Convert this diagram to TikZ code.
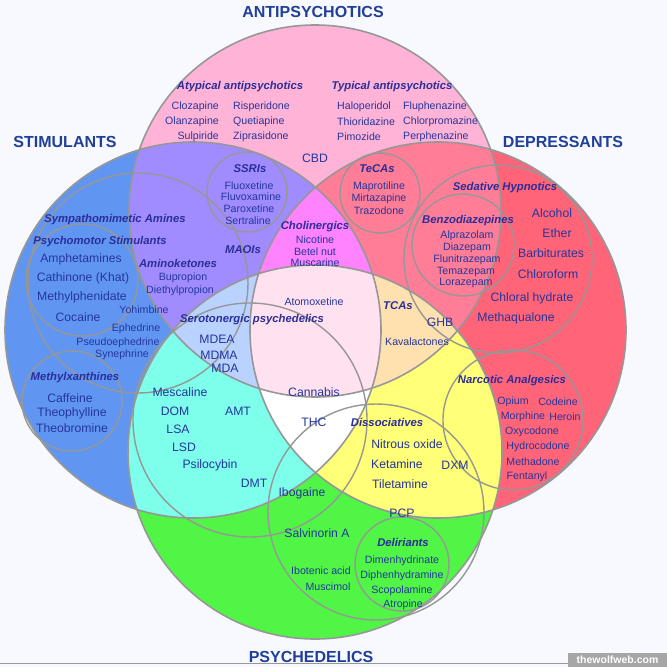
\documentclass[tikz,border=0pt]{standalone}
\usepackage{fontspec}
\setmainfont{Liberation Sans}

\definecolor{bgwhite}{HTML}{F7F9FF}
\definecolor{ringgray}{HTML}{979797}
\definecolor{titleblue}{HTML}{1F3F99}
\definecolor{grpblue}{HTML}{2B2E99}
\definecolor{itemblue}{HTML}{25369C}
\definecolor{pinkA}{HTML}{FFB3D6}
\definecolor{blueS}{HTML}{6096F2}
\definecolor{redD}{HTML}{FF6478}
\definecolor{greenP}{HTML}{50F546}
\definecolor{purpleAS}{HTML}{A08CFF}
\definecolor{roseAD}{HTML}{FF7D96}
\definecolor{cyanSP}{HTML}{7DFFEB}
\definecolor{yellowDP}{HTML}{FFFF78}
\definecolor{magentaASD}{HTML}{FF82FF}
\definecolor{lblueASP}{HTML}{B9D2FF}
\definecolor{orangeADP}{HTML}{FFE1AF}
\definecolor{lpinkAll}{HTML}{FFE1F0}

\begin{document}
\begin{tikzpicture}[x=1pt,y=-1pt,line cap=round,
  ring/.style={draw=ringgray,line width=1.6pt},
  subring/.style={draw=ringgray,line width=1.4pt},
  title/.style={font=\fontsize{16}{17}\selectfont\bfseries,text=titleblue,inner sep=0pt},
  grp/.style={font=\fontsize{11.3}{12}\selectfont\bfseries\itshape,text=grpblue,inner sep=0pt},
  itm/.style={font=\fontsize{12.2}{13}\selectfont,text=itemblue,inner sep=0pt},
  sitm/.style={font=\fontsize{10.6}{11}\selectfont,text=itemblue,inner sep=0pt}]
  \fill[bgwhite] (0,0) rectangle (667,667);
  \useasboundingbox (0,0) rectangle (667,667);

  % centres of the four classes
  \coordinate (cA) at (315,211);
  \coordinate (cS) at (193,330);
  \coordinate (cD) at (438,330);
  \coordinate (cP) at (315,452);

  % one class only
  \fill[pinkA] (cA) circle (186pt);
  \fill[blueS] (cS) circle (188pt);
  \fill[redD] (cD) circle (188pt);
  \fill[greenP] (cP) circle (187pt);

  % two classes
  \begin{scope}
    \clip (cA) circle (186pt);
    \fill[purpleAS] (cS) circle (188pt);
    \fill[roseAD] (cD) circle (188pt);
  \end{scope}
  \begin{scope}
    \clip (cP) circle (187pt);
    \fill[cyanSP] (cS) circle (188pt);
    \fill[yellowDP] (cD) circle (188pt);
  \end{scope}

  % three classes
  \begin{scope}
    \clip (cA) circle (186pt);
    \clip (cS) circle (188pt);
    \fill[magentaASD] (cD) circle (188pt);
    \fill[lblueASP] (cP) circle (187pt);
  \end{scope}
  \begin{scope}
    \clip (cA) circle (186pt);
    \clip (cD) circle (188pt);
    \fill[orangeADP] (cP) circle (187pt);
  \end{scope}
  \begin{scope}
    \clip (cS) circle (188pt);
    \clip (cD) circle (188pt);
    \fill[white] (cP) circle (187pt);
  \end{scope}

  % all four
  \begin{scope}
    \clip (cA) circle (186pt);
    \clip (cS) circle (188pt);
    \clip (cD) circle (188pt);
    \fill[lpinkAll] (cP) circle (187pt);
  \end{scope}

  \draw[ring] (cA) circle (186pt);
  \draw[ring] (cS) circle (188pt);
  \draw[ring] (cD) circle (188pt);
  \draw[ring] (cP) circle (187pt);

  % sub-groups
  \draw[subring] (247,192) circle (40pt);   % SSRIs
  \draw[subring] (380,193) circle (40pt);   % TeCAs
  \draw[subring] (498,259) circle (94pt);   % sedative hypnotics
  \draw[subring] (463,245) circle (51pt);   % benzodiazepines
  \draw[subring] (513,420) circle (70pt);   % narcotic analgesics
  \draw[subring] (376,512) circle (108pt);  % dissociatives
  \draw[subring] (402,564) circle (47pt);   % deliriants
  \draw[subring] (250,420) circle (117pt);  % serotonergic
  \draw[subring] (138,283) circle (110pt);  % sympathomimetic
  \draw[subring] (82,280) circle (56pt);    % psychomotor
  \draw[subring] (72,401) circle (50pt);    % methylxanthines

  % titles
  \node[title] (antipsy) at (313,12) {ANTIPSYCHOTICS};
  \node[title] (stimul) at (65,142) {STIMULANTS};
  \node[title] (depress) at (563,142) {DEPRESSANTS};
  \node[title] (psyched) at (311,657) {PSYCHEDELICS};

  % antipsychotics
  \node[grp] (atyp) at (240,87) {Atypical antipsychotics};
  \node[sitm,anchor=east] (cloz) at (219,107) {Clozapine};
  \node[sitm,anchor=east] (olan) at (219,122) {Olanzapine};
  \node[sitm,anchor=east] (sulp) at (219,137) {Sulpiride};
  \node[sitm,anchor=west] (risp) at (233,107) {Risperidone};
  \node[sitm,anchor=west] (quet) at (233,122) {Quetiapine};
  \node[sitm,anchor=west] (zipr) at (233,137) {Ziprasidone};
  \node[grp] (typ) at (392,87) {Typical antipsychotics};
  \node[sitm,anchor=west] (halo) at (337,107) {Haloperidol};
  \node[sitm,anchor=west] (thio) at (337,122) {Thioridazine};
  \node[sitm,anchor=west] (pimo) at (337,137) {Pimozide};
  \node[sitm,anchor=west] (fluph) at (403,107) {Fluphenazine};
  \node[sitm,anchor=west] (chlorp) at (403,122) {Chlorpromazine};
  \node[sitm,anchor=west] (perph) at (403,137) {Perphenazine};
  \node[itm] (cbd) at (315,158) {CBD};

  % SSRIs, TeCAs, cholinergics
  \node[grp] (ssri) at (250,169) {SSRIs};
  \node[sitm] (fluox) at (249,186) {Fluoxetine};
  \node[sitm] (fluvox) at (251,197) {Fluvoxamine};
  \node[sitm] (parox) at (249,209) {Paroxetine};
  \node[sitm] (sertr) at (248,221) {Sertraline};
  \node[grp] (teca) at (377,169) {TeCAs};
  \node[sitm] (mapro) at (379,187) {Maprotiline};
  \node[sitm] (mirta) at (379,199) {Mirtazapine};
  \node[sitm] (trazo) at (379,211) {Trazodone};
  \node[grp] (cholin) at (315,227) {Cholinergics};
  \node[sitm] (nicot) at (315,240) {Nicotine};
  \node[sitm] (betel) at (315,252) {Betel nut};
  \node[sitm] (musca) at (315,263) {Muscarine};
  \node[grp] (maoi) at (243,250) {MAOIs};

  % depressants
  \node[grp] (sedhyp) at (505,188) {Sedative Hypnotics};
  \node[grp] (benzo) at (468,221) {Benzodiazepines};
  \node[sitm] (alpra) at (467,236) {Alprazolam};
  \node[sitm] (diaz) at (467,248) {Diazepam};
  \node[sitm] (fluni) at (467,260) {Flunitrazepam};
  \node[sitm] (temaz) at (466,272) {Temazepam};
  \node[sitm] (loraz) at (466,283) {Lorazepam};
  \node[itm] (alcoh) at (552,213) {Alcohol};
  \node[itm] (ether) at (557,233) {Ether};
  \node[itm] (barbi) at (551,253) {Barbiturates};
  \node[itm] (chlorof) at (548,274) {Chloroform};
  \node[itm] (chloral) at (532,298) {Chloral hydrate};
  \node[itm] (methaq) at (516,318) {Methaqualone};
  \node[grp] (tca) at (398,306) {TCAs};
  \node[itm] (ghb) at (440,322) {GHB};
  \node[sitm] (kava) at (417,342) {Kavalactones};

  % stimulants
  \node[grp] (sympa) at (115,220) {Sympathomimetic Amines};
  \node[grp] (psymo) at (100,242) {Psychomotor Stimulants};
  \node[itm] (amphe) at (81,259) {Amphetamines};
  \node[itm] (cathi) at (83,278) {Cathinone (Khat)};
  \node[itm] (methy) at (82,297) {Methylphenidate};
  \node[itm] (cocai) at (78,317) {Cocaine};
  \node[sitm] (yohim) at (144,310) {Yohimbine};
  \node[sitm] (ephed) at (136,329) {Ephedrine};
  \node[sitm] (pseud) at (118,343) {Pseudoephedrine};
  \node[sitm] (syne) at (122,355) {Synephrine};
  \node[grp] (amino) at (178,263) {Aminoketones};
  \node[sitm] (bupro) at (183,278) {Bupropion};
  \node[sitm] (dieth) at (180,291) {Diethylpropion};
  \node[grp] (methx) at (75,378) {Methylxanthines};
  \node[itm] (caffe) at (70,398) {Caffeine};
  \node[itm] (theop) at (72,413) {Theophylline};
  \node[itm] (theob) at (72,428) {Theobromine};

  % centre
  \node[grp] (serot) at (252,320) {Serotonergic psychedelics};
  \node[itm] (mdea) at (217,339) {MDEA};
  \node[itm] (mdma) at (219,355) {MDMA};
  \node[itm] (mda) at (225,368) {MDA};
  \node[sitm] (atomo) at (314,302) {Atomoxetine};
  \node[itm] (canna) at (314,392) {Cannabis};
  \node[itm] (thc) at (314,422) {THC};

  % psychedelics
  \node[itm] (mesca) at (180,392) {Mescaline};
  \node[itm] (dom) at (175,411) {DOM};
  \node[itm] (amt) at (238,411) {AMT};
  \node[itm] (lsa) at (178,429) {LSA};
  \node[itm] (lsd) at (184,447) {LSD};
  \node[itm] (psilo) at (210,465) {Psilocybin};
  \node[itm] (dmt) at (254,483) {DMT};
  \node[itm] (ibog) at (302,493) {Ibogaine};
  \node[itm] (salvi) at (317,533) {Salvinorin A};
  \node[sitm] (ibote) at (321,571) {Ibotenic acid};
  \node[sitm] (musci) at (328,587) {Muscimol};
  \node[grp] (disso) at (387,422) {Dissociatives};
  \node[itm] (nitro) at (407,444) {Nitrous oxide};
  \node[itm] (ketam) at (397,464) {Ketamine};
  \node[itm] (tilet) at (400,484) {Tiletamine};
  \node[itm] (dxm) at (455,465) {DXM};
  \node[itm] (pcp) at (402,513) {PCP};
  \node[grp] (delir) at (403,542) {Deliriants};
  \node[sitm] (dimen) at (402,561) {Dimenhydrinate};
  \node[sitm] (diphe) at (402,576) {Diphenhydramine};
  \node[sitm] (scopo) at (402,591) {Scopolamine};
  \node[sitm] (atrop) at (403,605) {Atropine};

  % narcotic analgesics
  \node[grp] (narco) at (512,381) {Narcotic Analgesics};
  \node[sitm] (opium) at (513,402) {Opium};
  \node[sitm] (codei) at (558,402) {Codeine};
  \node[sitm] (morph) at (523,417) {Morphine};
  \node[sitm] (heroi) at (565,417) {Heroin};
  \node[sitm] (oxyco) at (532,432) {Oxycodone};
  \node[sitm] (hydro) at (538,447) {Hydrocodone};
  \node[sitm] (metha) at (533,462) {Methadone};
  \node[sitm] (fenta) at (527,477) {Fentanyl};

  % frame and mark
  \draw[ringgray,line width=0.8pt] (0,663) -- (667,663);
  \node[fill=gray!70,text=white,font=\fontsize{10.5}{11}\selectfont\bfseries,
    minimum width=99pt,minimum height=14pt,inner sep=0pt] (mark) at (617.5,660) {thewolfweb.com};
\end{tikzpicture}
\end{document}
